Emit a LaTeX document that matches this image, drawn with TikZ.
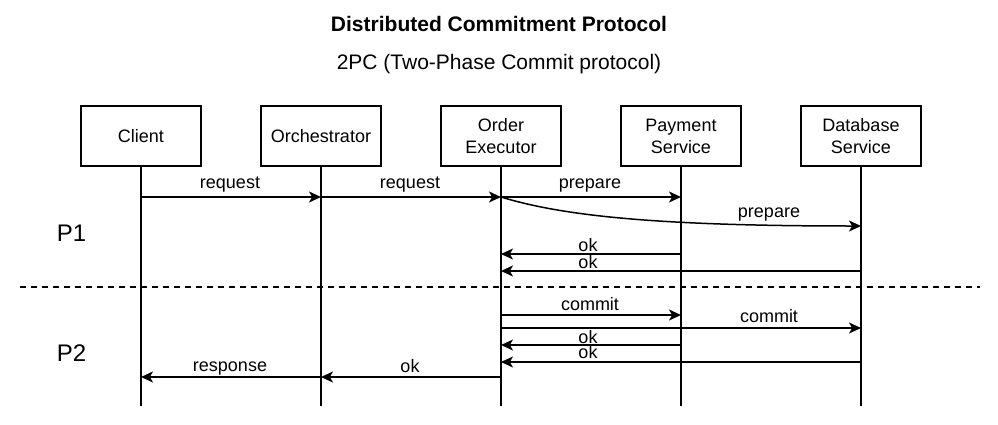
\documentclass[tikz,border=0pt]{standalone}
\usepackage{fontspec}
\setmainfont{Liberation Sans}
\usetikzlibrary{arrows.meta}

\begin{document}
\begin{tikzpicture}[x=0.5pt,y=-0.5pt,line width=0.75pt,
		>={Stealth[length=6pt,width=5.5pt,inset=1.6pt]},
		actor node/.style={rectangle,draw,minimum width=60pt,minimum height=30pt,inner sep=0pt,
			align=center,font=\fontsize{9}{11}\selectfont},
		msg/.style={->},
		msg label/.style={anchor=base,inner sep=0pt,font=\fontsize{9}{11}\selectfont},
		phase label/.style={anchor=base,inner sep=0pt,font=\fontsize{12}{14}\selectfont}]
	\useasboundingbox (0,0) rectangle (998,424);

	% titles
	\node[anchor=base,inner sep=0pt,font=\fontsize{10.5}{12}\selectfont\bfseries] (title) at (499,31) {Distributed Commitment Protocol};
	\node[anchor=base,inner sep=0pt,font=\fontsize{10.5}{12}\selectfont] (subtitle) at (499,69.5) {2PC (Two-Phase Commit protocol)};

	% participants
	\node[actor node] (client) at (141,136) {Client};
	\node[actor node] (orch) at (321,136) {Orchestrator};
	\node[actor node] (oe) at (501,136) {Order\\Executor};
	\node[actor node] (pay) at (681,136) {Payment\\Service};
	\node[actor node] (db) at (861,136) {Database\\Service};

	% lifelines
	\foreach \n in {client,orch,oe,pay,db}
		\draw (\n.south) -- (\n |- 0,406);

	% phases
	\node[phase label] (p1) at (71.5,241.5) {P1};
	\node[phase label] (p2) at (71.5,361.5) {P2};
	\draw[line width=0.6pt,dash pattern=on 3pt off 2.5pt] (20,287) -- (980,287);

	% phase 1
	\draw[msg] (client |- 0,197) -- (orch |- 0,197);
	\node[msg label] (l1) at (230,188) {request};
	\draw[msg] (orch |- 0,197) -- (oe |- 0,197);
	\node[msg label] (l2) at (410,188) {request};
	\draw[msg] (oe |- 0,197) -- (pay |- 0,197);
	\node[msg label] (l3) at (590,188) {prepare};
	\draw[msg] (oe |- 0,197) .. controls (560,215) and (650,226) .. (db |- 0,226);
	\node[msg label] (l4) at (769,217) {prepare};
	\draw[msg] (pay |- 0,254) -- (oe |- 0,254);
	\node[msg label] (l5) at (588,251) {ok};
	\draw[msg] (db |- 0,271) -- (oe |- 0,271);
	\node[msg label] (l6) at (588,268) {ok};

	% phase 2
	\draw[msg] (oe |- 0,315) -- (pay |- 0,315);
	\node[msg label] (l7) at (590,310) {commit};
	\draw[msg] (oe |- 0,328) -- (db |- 0,328);
	\node[msg label] (l8) at (769,322) {commit};
	\draw[msg] (pay |- 0,345) -- (oe |- 0,345);
	\node[msg label] (l9) at (588,343) {ok};
	\draw[msg] (db |- 0,362) -- (oe |- 0,362);
	\node[msg label] (l10) at (588,358.5) {ok};
	\draw[msg] (oe |- 0,377) -- (orch |- 0,377);
	\node[msg label] (l11) at (410,372) {ok};
	\draw[msg] (orch |- 0,377) -- (client |- 0,377);
	\node[msg label] (l12) at (230,371) {response};

\end{tikzpicture}
\end{document}
